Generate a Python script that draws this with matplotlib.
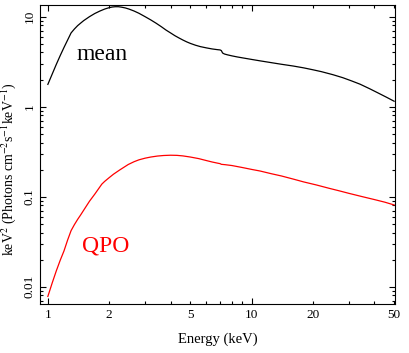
import matplotlib
matplotlib.use("Agg")
import matplotlib.pyplot as plt
from matplotlib.ticker import FixedLocator, FixedFormatter, NullFormatter

plt.rcParams['font.family'] = ['Liberation Serif', 'DejaVu Serif']
plt.rcParams['mathtext.fontset'] = 'stix'

# Mean spectrum (E^2 F(E))
mean_energy = [1.00, 1.05, 1.10, 1.15, 1.20, 1.25, 1.30, 1.35, 1.40, 1.45, 1.50, 1.60,
               1.70, 1.80, 1.90, 2.00, 2.07, 2.14, 2.22, 2.30, 2.40, 2.50, 2.65, 2.80,
               3.00, 3.20, 3.40, 3.60, 3.80, 4.00, 4.20, 4.40, 4.60, 4.80, 5.00, 5.30,
               5.60, 6.00, 6.40, 6.80, 7.00, 7.10, 7.20, 7.35, 7.60, 8.00, 8.50, 9.00,
               10.0, 11.0, 12.0, 13.0, 14.0, 16.0, 18.0, 20.0, 22.0, 25.0, 28.0, 31.0,
               34.0, 38.0, 42.0, 46.0, 50.0]
mean_flux = [1.77, 2.3, 2.95, 3.7, 4.55, 5.5, 6.6, 7.3, 7.95, 8.5, 9.05, 10.0,
             10.85, 11.55, 12.15, 12.6, 12.8, 12.9, 12.9, 12.75, 12.5, 12.15, 11.55, 10.9,
             10.0, 9.2, 8.45, 7.75, 7.1, 6.6, 6.15, 5.8, 5.5, 5.25, 5.05, 4.82,
             4.65, 4.5, 4.38, 4.3, 4.27, 4.2, 3.95, 3.85, 3.77, 3.67, 3.57, 3.49,
             3.35, 3.23, 3.13, 3.04, 2.96, 2.83, 2.7, 2.57, 2.45, 2.27, 2.1, 1.93,
             1.78, 1.58, 1.41, 1.27, 1.15]

# QPO spectrum
qpo_energy = [1.00, 1.05, 1.10, 1.15, 1.20, 1.25, 1.30, 1.35, 1.40, 1.45, 1.50, 1.60,
              1.70, 1.84, 1.90, 2.00, 2.10, 2.25, 2.48, 2.65, 2.80, 3.00, 3.20, 3.45,
              3.70, 4.00, 4.30, 4.60, 5.00, 5.50, 6.00, 6.40, 6.80, 7.00, 7.10, 7.40,
              8.00, 9.00, 10.0, 11.0, 12.5, 14.0, 16.0, 18.0, 20.8, 24.0, 27.0, 30.0,
              35.0, 40.0, 45.0, 50.0]
qpo_flux = [0.0078, 0.011, 0.015, 0.0197, 0.025, 0.033, 0.042, 0.049, 0.056, 0.063, 0.071, 0.089,
            0.107, 0.138, 0.148, 0.163, 0.178, 0.198, 0.228, 0.245, 0.257, 0.268, 0.276, 0.283,
            0.287, 0.289, 0.288, 0.284, 0.276, 0.265, 0.252, 0.243, 0.236, 0.233, 0.229, 0.227,
            0.222, 0.211, 0.201, 0.193, 0.18, 0.17, 0.157, 0.146, 0.135, 0.124, 0.116, 0.109,
            0.1, 0.093, 0.087, 0.081]

x_major = [1, 10]
x_major_labels = ['1', '10']
x_minor = [2, 3, 4, 5, 6, 7, 8, 9, 20, 30, 40, 50]
x_minor_labels = ['2', '', '', '5', '', '', '', '', '20', '', '', '50']
y_major = [0.01, 0.1, 1, 10]
y_major_labels = ['0.01', '0.1', '1', '10']

fig = plt.figure(figsize=(4.09, 3.53), dpi=100)
ax = fig.add_axes([0.0966, 0.140, 0.870, 0.846])

ax.plot(mean_energy, mean_flux, color='black', lw=0.9)
ax.plot(qpo_energy, qpo_flux, color='#ff0000', lw=0.9)

ax.set_xscale('log')
ax.set_yscale('log')
ax.set_xlim(0.91, 50.7)
ax.set_ylim(0.0065, 13.5)

ax.xaxis.set_major_locator(FixedLocator(x_major))
ax.xaxis.set_major_formatter(FixedFormatter(x_major_labels))
ax.xaxis.set_minor_locator(FixedLocator(x_minor))
ax.xaxis.set_minor_formatter(FixedFormatter(x_minor_labels))

ax.yaxis.set_major_locator(FixedLocator(y_major))
ax.yaxis.set_major_formatter(FixedFormatter(y_major_labels))
y_minor = [m * d for d in [0.001, 0.01, 0.1, 1, 10] for m in range(2, 10)]
ax.yaxis.set_minor_locator(FixedLocator(y_minor))
ax.yaxis.set_minor_formatter(NullFormatter())

ax.tick_params(which='both', direction='in', top=True, right=True, width=0.8,
               labelsize=9.5, colors='black')
ax.tick_params(which='major', length=4.5)
ax.tick_params(which='minor', length=2.5)
ax.tick_params(axis='x', which='both', pad=4)
ax.tick_params(axis='y', which='both', pad=3)
for lab in ax.get_yticklabels():
    lab.set_rotation(90)
    lab.set_va('center')

for s in ax.spines.values():
    s.set_linewidth(0.8)

ax.set_xlabel('Energy (keV)', fontsize=10.5, labelpad=8)
fig.text(8.5 / 409, 1 - 169 / 353,
         r'keV$^2$ (Photons cm$^{-2}$s$^{-1}$keV$^{-1}$)', fontsize=10,
         rotation=90, ha='center', va='center')

ax.text(0.177, 0.816, 'mean', transform=ax.transAxes, fontsize=17,
        ha='center', va='baseline', color='black')
ax.text(0.186, 0.1735, 'QPO', transform=ax.transAxes, fontsize=17,
        ha='center', va='baseline', color='#ff0000')

fig.savefig('out.png', dpi=100)
